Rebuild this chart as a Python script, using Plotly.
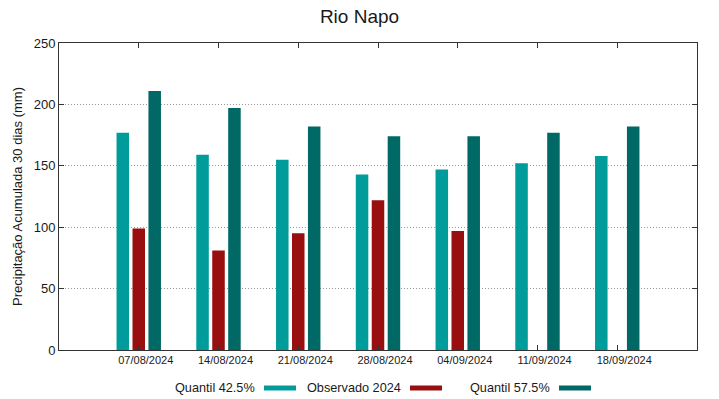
import plotly.graph_objects as go

dates = ["07/08/2024", "14/08/2024", "21/08/2024", "28/08/2024",
         "04/09/2024", "11/09/2024", "18/09/2024"]
q425 = [177, 159, 155, 143, 147, 152, 158]
obs2024 = [99, 81, 95, 122, 97, None, None]
q575 = [211, 197, 182, 174, 174, 177, 182]

names = ["Quantil 42.5%", "Observado 2024", "Quantil 57.5%"]
colors = ["#009b9b", "#990f0f", "#006865"]
series = [q425, obs2024, q575]
offsets = [-0.2, 0.0, 0.2]

idx = list(range(len(dates)))
fig = go.Figure()
for name, vals, col, off in zip(names, series, colors, offsets):
    fig.add_trace(go.Bar(
        x=[i + off for i in idx], y=vals, name=name, width=0.157,
        marker=dict(color=col, line=dict(width=0)), showlegend=False))

font = "Liberation Sans, Arial, sans-serif"
fig.update_layout(
    width=719, height=399,
    margin=dict(l=59, r=22, t=43, b=49),
    paper_bgcolor="white", plot_bgcolor="white",
    barmode="overlay",
    font=dict(family=font, color="#1a1a1a"),
    title=dict(text="Rio Napo", x=0.5, xanchor="center", y=0.96, yanchor="middle",
               font=dict(size=19, family=font, color="#1a1a1a")),
    xaxis=dict(range=[-1, 7], tickvals=idx, ticktext=dates, ticks="inside",
               ticklen=5, tickcolor="#333", tickfont=dict(size=11),
               ticklabelshift=7,
               showline=True, linecolor="#333", linewidth=1, mirror="ticks",
               showgrid=False, zeroline=False),
    yaxis=dict(range=[0, 250], tickvals=[0, 50, 100, 150, 200, 250],
               ticks="inside", ticklen=5, tickcolor="#333",
               tickfont=dict(size=13),
               showline=True, linecolor="#333", linewidth=1, mirror="ticks",
               showgrid=True, gridcolor="#999999", griddash="1px,2px", gridwidth=1,
               zeroline=False,
               title=dict(text="Precipitação Acumulada 30 dias (mm)",
                          font=dict(size=13), standoff=8)),
)

# gnuplot-style legend: text then swatch
leg_text_right = [257, 403, 552]
for name, col, xr in zip(names, colors, leg_text_right):
    fig.add_annotation(text=name, xref="paper", yref="paper",
                       x=(xr - 59) / 638, y=(350 - 388) / 307,
                       xanchor="right", yanchor="middle", showarrow=False,
                       font=dict(size=12.7, family=font, color="#1a1a1a"))
    x0 = xr + 7
    fig.add_shape(type="rect", xref="paper", yref="paper",
                  x0=(x0 - 59) / 638, x1=(x0 + 32 - 59) / 638,
                  y0=(350 - 385.5) / 307, y1=(350 - 390.5) / 307,
                  fillcolor=col, line=dict(width=0))

fig.write_html("out.html", config={"displayModeBar": False},
               post_script="document.body.style.margin='0';document.body.style.padding='0';")
